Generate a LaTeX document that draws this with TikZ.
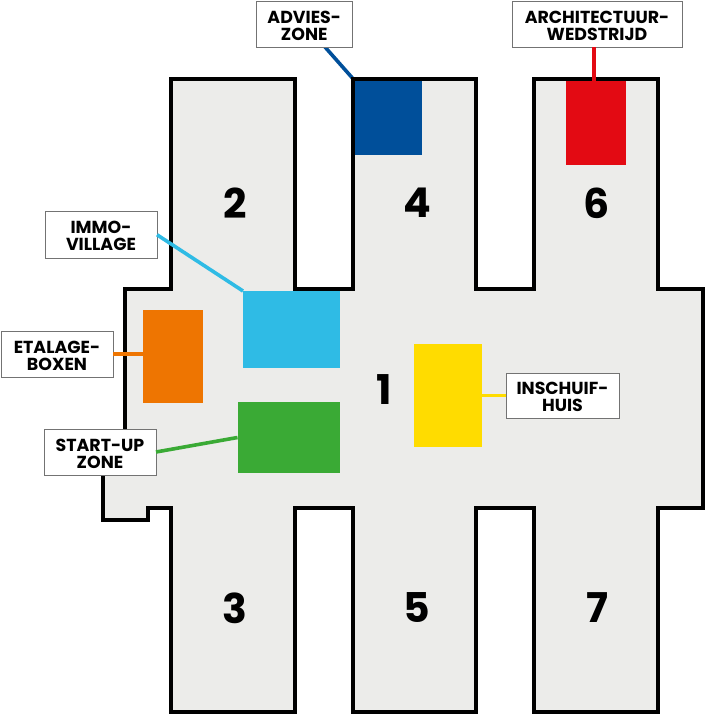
\documentclass[tikz,border=0pt]{standalone}
\usepackage{fontspec}
\usetikzlibrary{backgrounds}
\setmainfont{Poppins}
\newcommand{\liftline}{\rule{0pt}{15.4pt}}
\definecolor{floorc}{HTML}{ECECEA}
\definecolor{cblue}{HTML}{004F9A}
\definecolor{cred}{HTML}{E30A13}
\definecolor{ccyan}{HTML}{2FBBE5}
\definecolor{corange}{HTML}{EE7501}
\definecolor{cgreen}{HTML}{3AAA35}
\definecolor{cyellow}{HTML}{FFDC00}
\tikzset{
  zonebox/.style={minimum width=#1,anchor=north west,inner sep=0pt,outer sep=0pt},
  labelbox/.style={draw=black!55,line width=0.9pt,fill=white,anchor=north west,inner sep=0pt,outer sep=0pt,align=center,
    font=\fontsize{17.4}{17}\selectfont\bfseries,text=black},
  hallno/.style={font=\fontsize{41}{41}\selectfont\bfseries,text=black,inner sep=0pt},
  link/.style={line width=3.6pt}
}
\begin{document}
\begin{tikzpicture}[x=1pt,y=-1pt]
\useasboundingbox (0,0) rectangle (705,716);
\draw[line width=4pt,fill=floorc,miter limit=10]
 (171,79)--(295,79)--(295,289)--(353,289)--(353,79)--(476,79)--(476,289)--(534,289)--(534,79)--(658,79)--(658,289)--(703,289)--(703,508)--(658,508)--(658,712)--(534,712)--(534,508)--(476,508)--(476,712)--(353,712)--(353,508)--(295,508)--(295,712)--(171,712)--(171,508)--(148,508)--(148,520)--(103,520)--(103,474)--(125,474)--(125,289)--(171,289)--cycle;
\node[zonebox=67pt,minimum height=74pt,fill=cblue] (blue) at (355,81) {};
\node[zonebox=60pt,minimum height=84pt,fill=cred] (red) at (566,81) {};
\node[zonebox=97pt,minimum height=77pt,fill=ccyan] (cyan) at (243,291) {};
\node[zonebox=60pt,minimum height=93pt,fill=corange] (orange) at (142.5,310) {};
\node[zonebox=102.5pt,minimum height=71pt,fill=cgreen] (green) at (237.5,402) {};
\node[zonebox=68pt,minimum height=103pt,fill=cyellow] (yellow) at (414,344) {};
\node[hallno] (n2) at (235,203) {2};
\node[hallno] (n4) at (417,203) {4};
\node[hallno] (n6) at (597,203) {6};
\node[hallno] (n1) at (384,390) {1};
\node[hallno] (n3) at (235,608) {3};
\node[hallno] (n5) at (417,608) {5};
\node[hallno] (n7) at (597,608) {7};
\node[labelbox,minimum width=95.5pt,minimum height=46pt] (advies) at (256.5,1) {\liftline ADVIES-\\ZONE};
\node[labelbox,minimum width=170pt,minimum height=46pt] (arch) at (512,1) {\liftline ARCHITECTUUR-\\WEDSTRIJD};
\node[labelbox,minimum width=112pt,minimum height=46.5pt] (immo) at (45,211.5) {\liftline IMMO-\\VILLAGE};
\node[labelbox,minimum width=112pt,minimum height=46pt] (etalage) at (1,331) {\liftline ETALAGE-\\BOXEN};
\node[labelbox,minimum width=112pt,minimum height=46pt] (startup) at (44,429) {\liftline START-UP\\ZONE};
\node[labelbox,minimum width=113pt,minimum height=45pt] (inschuif) at (506,373) {\liftline INSCHUIF-\\HUIS};
\coordinate (adviesfoot) at (325,47);
\coordinate (archfoot) at (594,47);
\begin{pgfonlayer}{background}
\draw[link,cblue] (adviesfoot) -- (blue.north west);
\end{pgfonlayer}
\draw[link,cred] (archfoot) -- (archfoot |- red.north);
\draw[link,ccyan] (immo.east) -- (cyan.north west);
\draw[link,corange] (etalage.east) -- (etalage.east -| orange.west);
\draw[link,cgreen] (startup.east) -- (green.west);
\draw[link,cyellow] (inschuif.west) -- (inschuif.west -| yellow.east);
\end{tikzpicture}
\end{document}
